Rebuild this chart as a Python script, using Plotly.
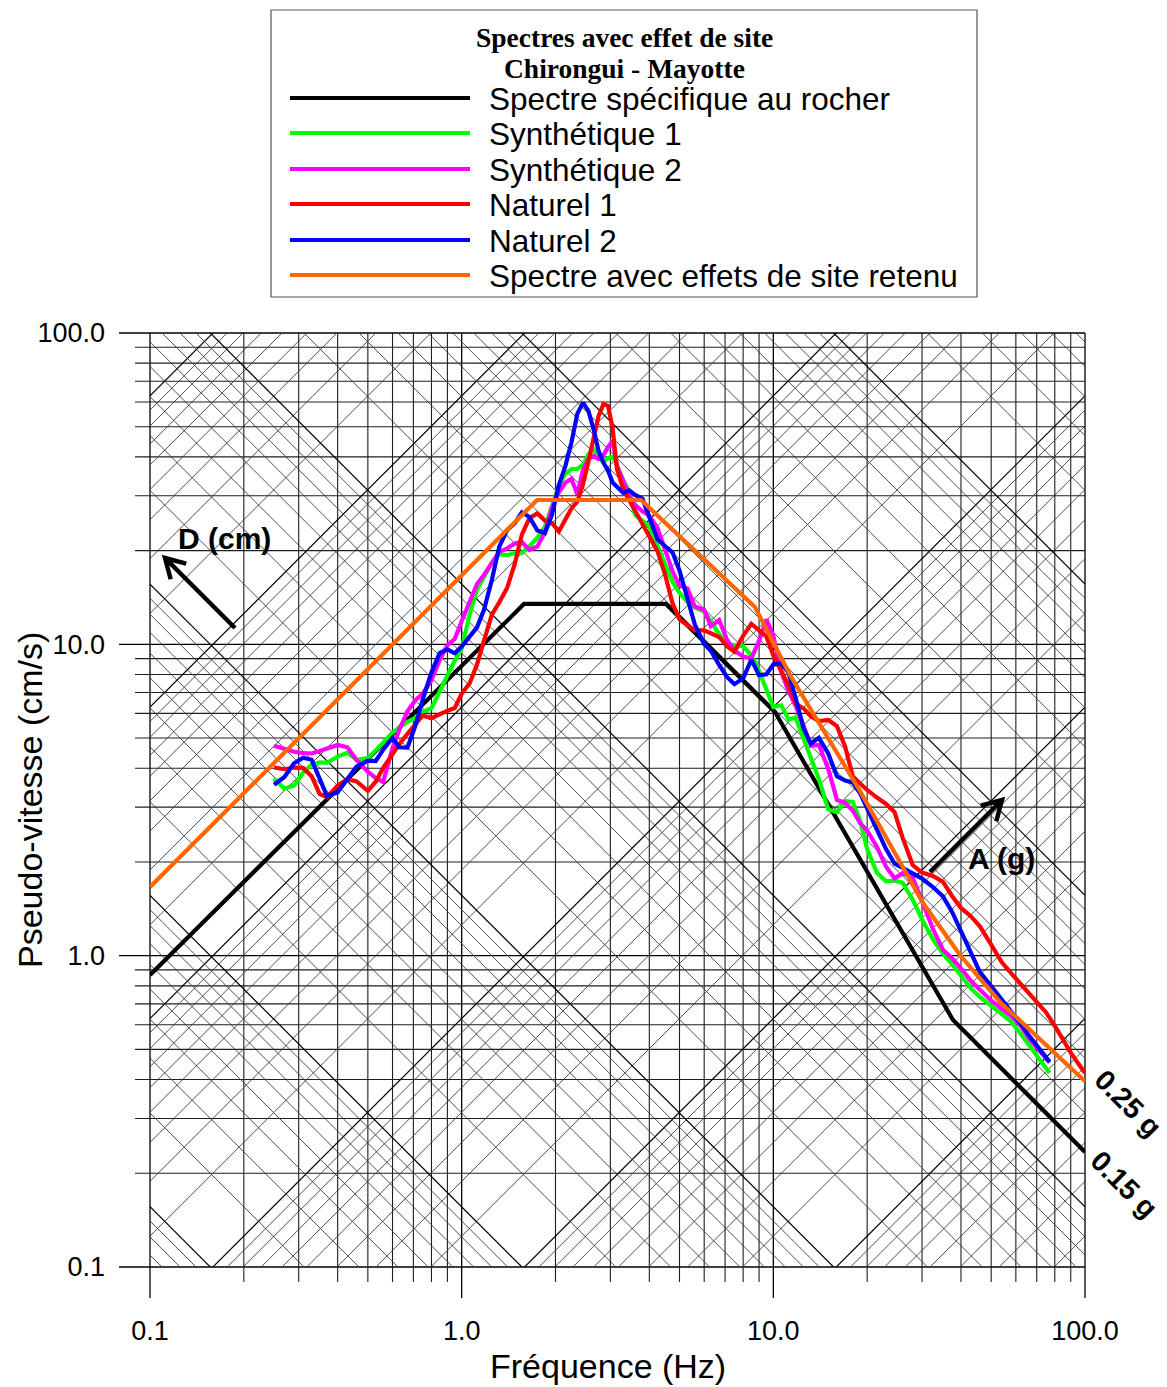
import math
import plotly.graph_objects as go

# ---------------- data (Hz, cm/s) ----------------
freq_base = [0.25, 0.27, 0.29, 0.31, 0.33, 0.35, 0.37, 0.40, 0.43, 0.46, 0.50, 0.53, 0.56, 0.60, 0.63,
             0.67, 0.71, 0.75, 0.80, 0.85, 0.90, 0.95, 1.00, 1.06, 1.12, 1.18, 1.25, 1.32, 1.40, 1.48,
             1.56, 1.65, 1.75, 1.85, 1.95, 2.05, 2.15, 2.25, 2.35, 2.45, 2.55, 2.65, 2.75, 2.85, 2.95,
             3.05, 3.15, 3.3, 3.45, 3.6, 3.8, 4.0, 4.25, 4.5, 4.75, 5.0, 5.3, 5.6, 6.0, 6.3, 6.7, 7.1,
             7.5, 8.0, 8.5, 9.0, 9.5, 10.0, 10.6, 11.2, 11.8, 12.5, 13.2, 14.0, 15.0, 16.0, 17.0, 18.0,
             19.0, 20.0, 21.5, 23.0, 24.5, 26.0, 28.0, 30.0, 32.5, 35.0, 37.5, 40.0, 43.0, 46.0, 50.0,
             54.0, 58.0, 62.0, 66.0, 70.0, 75.0]
freq_syn = freq_base + [77.0]
freq_nat1 = freq_base + [80.0, 85.0, 90.0, 95.0, 100.0]
freq_nat2 = freq_base + [77.0]

v_syn1 = [3.70, 3.44, 3.52, 3.87, 4.11, 4.18, 4.16, 4.36, 4.48, 4.26, 4.31, 4.55, 4.83, 5.21, 5.40, 5.64,
          5.80, 6.07, 6.24, 7.08, 7.96, 8.87, 9.66, 12.42, 14.98, 16.49, 18.33, 19.48, 19.36, 19.61, 19.65,
          20.65, 22.02, 23.89, 27.61, 32.23, 35.28, 36.58, 36.6, 37.78, 40.74, 42.28, 39.85, 38.52, 39.67,
          39.96, 37.73, 33.6, 30.97, 26.07, 24.93, 24.01, 20.72, 18.01, 15.86, 14.62, 13.70, 13.13,
          12.74, 11.87, 10.78, 10.06, 9.92, 9.87, 9.21, 8.21, 7.20, 6.29, 6.37, 5.74, 5.80, 4.99, 4.34,
          3.69, 2.95, 2.89, 3.14, 3.11, 2.71, 2.20, 1.845, 1.733, 1.743, 1.713, 1.513, 1.307, 1.130,
          1.016, 0.937, 0.864, 0.787, 0.737, 0.690, 0.651, 0.614, 0.563, 0.515, 0.476, 0.435, 0.420]

v_syn2 = [4.72, 4.61, 4.52, 4.47, 4.46, 4.54, 4.63, 4.75, 4.67, 4.25, 3.90, 3.72, 3.61, 4.65, 5.30, 6.09,
          6.61, 6.95, 7.66, 8.91, 9.95, 10.40, 11.87, 13.79, 15.63, 16.74, 18.37, 19.81, 20.34, 21.08,
          21.31, 20.10, 20.65, 22.92, 27.57, 30.81, 33.03, 34.05, 30.31, 36.31, 39.38, 40.26, 39.38,
          40.56, 43.03, 44.98, 37.39, 33.30, 30.04, 28.07, 26.73, 25.93, 23.64, 20.06, 17.16, 15.41,
          15.13, 13.23, 12.92, 11.44, 11.97, 10.35, 9.56, 9.14, 9.02, 10.26, 12.03, 10.64, 8.15, 7.06,
          6.33, 5.49, 4.72, 4.75, 3.98, 3.165, 3.095, 2.92, 2.662, 2.524, 2.234, 1.931, 1.772, 1.840,
          1.778, 1.500, 1.219, 1.045, 0.979, 0.910, 0.830, 0.777, 0.718, 0.675, 0.640, 0.598, 0.543,
          0.506, 0.467, 0.453]

v_nat1 = [4.02, 3.97, 4.02, 4.01, 3.77, 3.31, 3.23, 3.52, 3.69, 3.63, 3.385, 3.62, 4.01, 4.46, 4.77, 5.16,
          5.51, 5.91, 5.79, 5.97, 6.12, 6.24, 6.94, 7.49, 8.61, 10.31, 12.45, 13.64, 15.20, 18.12, 22.51,
          25.44, 26.34, 24.97, 24.53, 23.05, 25.29, 27.33, 28.72, 32.54, 38.66, 46.68, 54.11, 59.11,
          58.29, 49.41, 36.60, 31.46, 28.95, 27.05, 24.44, 22.16, 19.91, 16.68, 13.53, 12.03, 11.49,
          11.08, 11.09, 10.83, 10.56, 9.86, 9.48, 10.65, 11.64, 11.09, 10.60, 9.22, 8.15, 7.37, 6.43,
          6.23, 5.87, 5.67, 5.715, 5.46, 4.69, 3.76, 3.57, 3.405, 3.22, 3.07, 2.89, 2.39, 1.955, 1.848,
          1.804, 1.727, 1.552, 1.423, 1.339, 1.242, 1.085, 0.954, 0.877, 0.813, 0.761, 0.712, 0.657,
          0.595, 0.535, 0.488, 0.451, 0.420]

v_nat2 = [3.54, 3.75, 4.15, 4.32, 4.26, 3.74, 3.25, 3.35, 3.70, 4.05, 4.23, 4.22, 4.59, 5.01, 4.67, 4.66,
          5.47, 6.66, 8.13, 9.37, 9.63, 9.36, 9.84, 10.56, 11.34, 12.94, 16.12, 20.57, 23.31, 24.46,
          26.55, 25.65, 23.20, 22.78, 26.16, 32.45, 37.31, 44.52, 55.00, 59.77, 56.2, 49.16, 41.75,
          38.32, 36.10, 33.10, 32.04, 30.65, 31.24, 30.20, 29.38, 25.69, 21.74, 20.66, 19.72, 17.25,
          14.24, 11.57, 10.03, 9.54, 8.59, 7.86, 7.45, 7.77, 8.93, 7.96, 8.01, 8.61, 8.68, 8.09, 6.70,
          5.37, 4.80, 5.01, 4.46, 3.77, 3.65, 3.60, 3.32, 2.99, 2.54, 2.20, 1.973, 1.914, 1.841, 1.768,
          1.662, 1.551, 1.379, 1.205, 1.038, 0.886, 0.798, 0.726, 0.664, 0.606, 0.555, 0.514, 0.472,
          0.456]

freq_rock = [0.1, 1.585, 4.524, 10.12, 37.72, 100.0]
v_rock = [0.867, 13.48, 13.48, 6.06, 0.621, 0.234]

freq_site = [0.1, 1.745, 3.762, 8.73, 11.31, 18.97, 30.22, 39.71, 53.37, 100.0]
v_site = [1.662, 29.08, 29.08, 13.18, 7.97, 3.38, 1.476, 1.005, 0.710, 0.395]

series_names = ["Spectre spécifique au rocher", "Synthétique 1", "Synthétique 2",
                "Naturel 1", "Naturel 2", "Spectre avec effets de site retenu"]
series_colors = ["#000000", "#00FF00", "#FF00FF", "#FF0000", "#0000FF", "#FF6600"]

title_lines = ["Spectres avec effet de site", "Chirongui - Mayotte"]

tick_vals = [0.1, 1, 10, 100]
tick_text = ["0.1", "1.0", "10.0", "100.0"]

G = 981.0  # cm/s2

# ---------------- layout geometry ----------------
W, H = 1167, 1387
L, R, T, B = 150, 82, 333, 120
PW, PH = W - L - R, H - T - B


def xp(px):
    return (px - L) / PW


def yp(py):
    return (H - B - py) / PH


fig = go.Figure()

# tripartite diagonal grid (constant displacement D and constant acceleration A)
def diag_trace(kind, major):
    xs, ys = [], []
    ks = range(-5, 4) if kind == "D" else range(-5, 2)
    ms = [1] if major else range(2, 10)
    for k in ks:
        for m in ms:
            val = m * 10.0 ** k
            for f in (0.1, 100.0):
                xs.append(f)
                if kind == "D":
                    ys.append(2 * math.pi * f * val)
                else:
                    ys.append(val * G / (2 * math.pi * f))
            xs.append(None)
            ys.append(None)
    return go.Scatter(x=xs, y=ys, mode="lines", hoverinfo="skip", showlegend=False,
                      line=dict(color="#000000" if major else "#3c3c3c",
                                width=1.2 if major else 0.9))

for kind in ("D", "A"):
    fig.add_trace(diag_trace(kind, False))
    fig.add_trace(diag_trace(kind, True))

series = [(freq_rock, v_rock), (freq_syn, v_syn1), (freq_syn, v_syn2),
          (freq_nat1, v_nat1), (freq_nat2, v_nat2), (freq_site, v_site)]
for (fx, vy), name, col in zip(series, series_names, series_colors):
    fig.add_trace(go.Scatter(x=fx, y=vy, mode="lines", name=name, showlegend=False,
                             line=dict(color=col, width=4.2)))

shapes = []
# vertical / horizontal grid lines (with outer tick extensions)
for k in (-1, 0, 1):
    for m in range(1, 10):
        v = m * 10.0 ** k
        pos = (math.log10(v) + 1) / 3
        major = (m == 1)
        style = dict(color="#000000" if major else "#1e1e1e", width=1.3 if major else 1.1)
        shapes.append(dict(type="line", xref="paper", yref="paper", x0=pos, x1=pos,
                           y0=yp(1298 if major else 1282), y1=1.0, layer="below", line=style))
        shapes.append(dict(type="line", xref="paper", yref="paper", y0=pos, y1=pos,
                           x0=xp(119 if major else 135), x1=1.0, layer="below", line=style))
shapes.append(dict(type="line", xref="paper", yref="paper", x0=1, x1=1, y0=yp(1298), y1=1,
                   layer="below", line=dict(color="#000000", width=1.3)))
shapes.append(dict(type="line", xref="paper", yref="paper", y0=1, y1=1, x0=xp(119), x1=1,
                   layer="below", line=dict(color="#000000", width=1.3)))

# legend box
shapes.append(dict(type="rect", xref="paper", yref="paper", x0=xp(271), x1=xp(977),
                   y0=yp(297), y1=yp(10), line=dict(color="#555555", width=1.2),
                   fillcolor="white", layer="above"))
legend_y = [98, 133, 169, 204, 240, 275]
annotations = []
for name, col, ly in zip(series_names, series_colors, legend_y):
    shapes.append(dict(type="line", xref="paper", yref="paper", x0=xp(290), x1=xp(470),
                       y0=yp(ly), y1=yp(ly), line=dict(color=col, width=4), layer="above"))
    annotations.append(dict(xref="paper", yref="paper", x=xp(487), y=yp(ly + 1), text=name,
                            showarrow=False, xanchor="left", yanchor="middle",
                            font=dict(family="Liberation Sans", size=31.5, color="black")))

for line_text, ty in zip(title_lines, (37.5, 68)):
    annotations.append(dict(xref="paper", yref="paper", x=xp(624), y=yp(ty),
                            text="<b>%s</b>" % line_text, showarrow=False,
                            xanchor="center", yanchor="middle",
                            font=dict(family="Liberation Serif", size=27.5, color="black")))


# arrows (D and A directions)
def arrow_path(tail, head, arm=22, ang=30):
    dx, dy = head[0] - tail[0], head[1] - tail[1]
    n = math.hypot(dx, dy)
    ux, uy = -dx / n, -dy / n
    pts = []
    for s in (1, -1):
        a = math.radians(ang * s)
        rx = ux * math.cos(a) - uy * math.sin(a)
        ry = ux * math.sin(a) + uy * math.cos(a)
        pts.append((head[0] + arm * rx, head[1] + arm * ry))
    p = "M %f %f L %f %f M %f %f L %f %f L %f %f" % (
        xp(tail[0]), yp(tail[1]), xp(head[0]), yp(head[1]),
        xp(pts[0][0]), yp(pts[0][1]), xp(head[0]), yp(head[1]), xp(pts[1][0]), yp(pts[1][1]))
    return dict(type="path", xref="paper", yref="paper", path=p, layer="above",
                line=dict(color="black", width=4.5))

shapes.append(arrow_path((235, 628), (165, 558)))
shapes.append(arrow_path((930, 872), (1002, 800)))

annotations.append(dict(xref="paper", yref="paper", x=xp(176), y=yp(538), text="<b>D (cm)</b>",
                        showarrow=False, xanchor="left", yanchor="middle",
                        font=dict(family="Liberation Sans", size=30, color="black")))
annotations.append(dict(xref="paper", yref="paper", x=xp(966), y=yp(858), text="<b>A (g)</b>",
                        showarrow=False, xanchor="left", yanchor="middle",
                        font=dict(family="Liberation Sans", size=30, color="black")))
annotations.append(dict(xref="paper", yref="paper", x=xp(1128), y=yp(1103), text="<b>0.25 g</b>",
                        showarrow=False, xanchor="center", yanchor="middle", textangle=45,
                        font=dict(family="Liberation Sans", size=28.5, color="black")))
annotations.append(dict(xref="paper", yref="paper", x=xp(1124), y=yp(1184), text="<b>0.15 g</b>",
                        showarrow=False, xanchor="center", yanchor="middle", textangle=45,
                        font=dict(family="Liberation Sans", size=28.5, color="black")))

# axis titles
annotations.append(dict(xref="paper", yref="paper", x=xp(608), y=yp(1366), text="Fréquence (Hz)",
                        showarrow=False, xanchor="center", yanchor="middle",
                        font=dict(family="Liberation Sans", size=34, color="black")))
annotations.append(dict(xref="paper", yref="paper", x=xp(30), y=0.5, text="Pseudo-vitesse (cm/s)",
                        showarrow=False, xanchor="center", yanchor="middle", textangle=-90,
                        font=dict(family="Liberation Sans", size=34, color="black")))

axis_common = dict(type="log", range=[-1, 2], showgrid=False, zeroline=False, showline=False,
                   ticks="", tickvals=tick_vals, ticktext=tick_text,
                   tickfont=dict(family="Liberation Sans", size=27, color="black"))

fig.update_layout(
    width=W, height=H,
    margin=dict(l=L, r=R, t=T, b=B),
    paper_bgcolor="white", plot_bgcolor="white",
    showlegend=False,
    xaxis=dict(axis_common, ticklabelstandoff=45),
    yaxis=dict(axis_common, ticklabelstandoff=44),
    shapes=shapes,
    annotations=annotations,
)

fig.write_html("out.html")
